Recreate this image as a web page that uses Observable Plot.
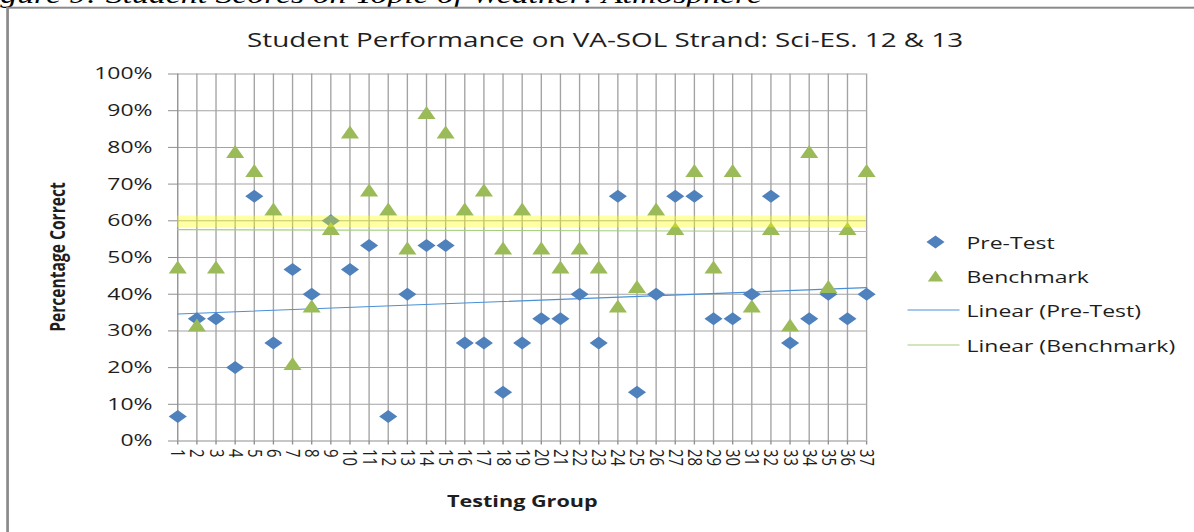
<!DOCTYPE html>
<html>
<head>
<meta charset="utf-8">
<script src="https://cdn.jsdelivr.net/npm/d3@7"></script>
<script src="https://cdn.jsdelivr.net/npm/@observablehq/plot@0.6"></script>
<style>
html,body{margin:0;padding:0;background:#fff;overflow:hidden;width:1194px;height:532px;}
#wrap{position:absolute;left:0;top:0;width:884px;height:532px;transform:scaleX(1.3507);transform-origin:0 0;}
#wrap svg{position:absolute;left:0;top:0;overflow:hidden;}
</style>
</head>
<body>
<div id="wrap"></div>
<script>
// ---- data ----
const captionText = "Figure 9: Student Scores on Topic of Weather: Atmosphere";
const titleText = "Student Performance on VA-SOL Strand: Sci-ES. 12 & 13";
const xTitle = "Testing Group";
const yTitle = "Percentage Correct";
const groups = d3.range(1, 38);
const preTest = [6.7,33.3,33.3,20,66.7,26.7,46.7,40,60,46.7,
                 53.3,6.7,40,53.3,53.3,26.7,26.7,13.3,26.7,33.3,
                 33.3,40,26.7,66.7,13.3,40,66.7,66.7,33.3,33.3,
                 40,66.7,26.7,33.3,40,33.3,40];
const benchmark = [47.4,31.6,47.4,78.9,73.7,63.2,21.1,36.8,57.9,84.2,
                   68.4,63.2,52.6,89.5,84.2,63.2,68.4,52.6,63.2,52.6,
                   47.4,52.6,47.4,36.8,42.1,63.2,57.9,73.7,47.4,73.7,
                   36.8,57.9,31.6,78.9,42.1,57.9,73.7];
const yTicks = [0,10,20,30,40,50,60,70,80,90,100];
const highlightBand = [{lo: 58.1, hi: 61.3}];
const seriesNames = ["Pre-Test", "Benchmark", "Linear (Pre-Test)", "Linear (Benchmark)"];

const rows = groups.map((g, i) => ({group: g, pre: preTest[i], bench: benchmark[i]}));

// ---- styles ----
const BLUE = "#4f81bd", GREEN = "#9bbb59", TBLUE = "#4a90d6", TGREEN = "#a3cf78";
const GRID = "#a3a3a3", AXIS = "#8f8f8f", TXT = "#1e1e1e";
const FONT = "'Open Sans', sans-serif";

const diamondSym = {draw(ctx) { ctx.moveTo(0,-6.5); ctx.lineTo(6.7,0); ctx.lineTo(0,6.5); ctx.lineTo(-6.7,0); ctx.closePath(); }};
const triangleSym = {draw(ctx) { ctx.moveTo(0,-6.5); ctx.lineTo(6.7,6.5); ctx.lineTo(-6.7,6.5); ctx.closePath(); }};

const W = 884, H = 532;
const chart = Plot.plot({
  width: W, height: H,
  marginLeft: 131.1, marginRight: 242.9, marginTop: 73.5, marginBottom: 91.5,
  style: {fontFamily: FONT, fontSize: "17px", color: TXT, background: "transparent"},
  x: {domain: [groups[0], groups[groups.length - 1]]},
  y: {domain: [yTicks[0], yTicks[yTicks.length - 1]]},
  marks: [
    Plot.gridY(yTicks.slice(1), {stroke: GRID, strokeOpacity: 1}),
    Plot.gridX(groups.slice(1), {stroke: GRID, strokeOpacity: 1}),
    Plot.ruleX([groups[0]], {stroke: AXIS}),
    Plot.ruleY([yTicks[0]], {stroke: AXIS}),
    Plot.axisY(yTicks, {tickFormat: d => d + "%", tickSize: 6.7, tickPadding: 12, stroke: AXIS, fontSize: 17, label: null}),
    Plot.axisX(groups, {tickRotate: 90, tickSize: 4, tickPadding: 4, stroke: AXIS, fontSize: 15, label: null}),
    Plot.linearRegressionY(rows, {x: "group", y: "pre", stroke: TBLUE, strokeWidth: 1.1, ci: 0}),
    Plot.linearRegressionY(rows, {x: "group", y: "bench", stroke: TGREEN, strokeWidth: 1.1, ci: 0}),
    Plot.dot(rows, {x: "group", y: "pre", symbol: diamondSym, fill: BLUE, stroke: "none"}),
    Plot.dot(rows, {x: "group", y: "bench", symbol: triangleSym, fill: GREEN, stroke: "none"}),
    Plot.rect(highlightBand, {x1: groups[0], x2: groups[groups.length - 1], y1: "lo", y2: "hi", fill: "#ffff00", fillOpacity: 0.36})
  ]
});
document.getElementById("wrap").appendChild(chart);

// ---- overlay: caption, frame, titles, legend ----
const svg = d3.select("#wrap").append("svg").attr("width", W).attr("height", H)
  .style("pointer-events", "none");
svg.append("text").attr("x", -22).attr("y", 2.5).text(captionText)
  .attr("font-family", "'Liberation Serif', serif").attr("font-style", "italic")
  .attr("font-size", 25).attr("fill", "#000");
svg.append("rect").attr("x", 5.6).attr("y", 7.7).attr("width", 1000).attr("height", 700)
  .attr("fill", "none").attr("stroke", "#8a8a8a").attr("stroke-width", 2);
svg.append("text").attr("x", 448).attr("y", 47).attr("text-anchor", "middle").text(titleText)
  .attr("font-family", FONT).attr("font-size", 20.6).attr("fill", TXT);
svg.append("text").attr("transform", "translate(42,257) rotate(-90)").attr("text-anchor", "middle")
  .attr("dominant-baseline", "central").text(yTitle)
  .attr("font-family", FONT).attr("font-weight", "bold").attr("font-size", 15.6).attr("fill", TXT);
svg.append("text").attr("x", 386.7).attr("y", 501).attr("text-anchor", "middle")
  .attr("dominant-baseline", "central").text(xTitle)
  .attr("font-family", FONT).attr("font-weight", "bold").attr("font-size", 16).attr("fill", TXT);

const lg = svg.append("g");
const ly = [242, 276, 310, 345];
const sym = (s) => { const p = d3.path(); s.draw(p); return p.toString(); };
lg.append("path").attr("d", sym(diamondSym)).attr("transform", `translate(692.6,${ly[0]})`).attr("fill", BLUE);
lg.append("path").attr("d", sym(triangleSym)).attr("transform", `translate(692.6,${ly[1]}) scale(0.85)`).attr("fill", GREEN);
lg.append("line").attr("x1", 671.9).attr("x2", 710.4).attr("y1", ly[2]).attr("y2", ly[2]).attr("stroke", TBLUE).attr("stroke-width", 1.1);
lg.append("line").attr("x1", 671.9).attr("x2", 710.4).attr("y1", ly[3]).attr("y2", ly[3]).attr("stroke", TGREEN).attr("stroke-width", 1.1);
seriesNames.forEach((n, i) => {
  lg.append("text").attr("x", 715.6).attr("y", ly[i]).attr("dominant-baseline", "central").text(n)
    .attr("font-family", FONT).attr("font-size", 17).attr("fill", TXT);
});
</script>
</body>
</html>
